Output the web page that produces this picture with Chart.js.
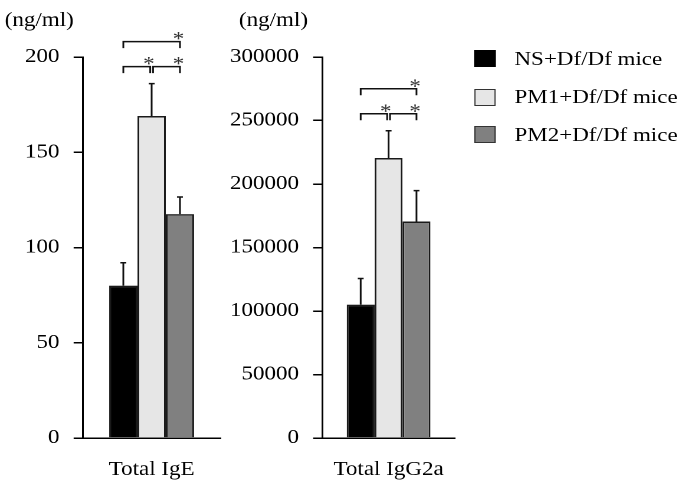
<!DOCTYPE html>
<html>
<head>
<meta charset="utf-8">
<script src="https://cdn.jsdelivr.net/npm/chart.js@4.4.0/dist/chart.umd.min.js"></script>
<style>
  html, body { margin: 0; padding: 0; background: #fff; overflow: hidden; }
  #stage {
    position: absolute; left: 0; top: 0; width: 583px; height: 492px;
    transform: scaleX(1.18); transform-origin: 0 0;
    font-family: 'Liberation Serif', 'Times New Roman', serif;
  }
  canvas { position: absolute; top: 0; }
  #leftChart { left: 0; }
  #rightChart { left: 180px; }
  .lg-row { position: absolute; left: 402px; height: 24px; display: flex; align-items: center; }
  .lg-box { width: 18px; height: 17px; box-sizing: border-box; border: 1.5px solid #333; }
  .lg-text { margin-left: 16px; font-size: 19.5px; line-height: 24px; color: #000; white-space: nowrap; }
</style>
</head>
<body>
<div id="stage">
  <canvas id="leftChart" width="205" height="492"></canvas>
  <canvas id="rightChart" width="220" height="492"></canvas>
  <div id="legend"></div>
</div>
<script>
// groups and colours
const groups = ['NS+Df/Df mice', 'PM1+Df/Df mice', 'PM2+Df/Df mice'];
const groupColors = ['#000000', '#e6e6e6', '#808080'];

// Total IgE (ng/ml)
const igeLabels = ['Total IgE'];
const igeMeans = [80, 169, 117.5];
const igeErrors = [12, 17, 9];
const igeTicks = [0, 50, 100, 150, 200];

// Total IgG2a (ng/ml)
const igg2aLabels = ['Total IgG2a'];
const igg2aMeans = [105000, 220500, 170500];
const igg2aErrors = [20600, 21400, 24300];
const igg2aTicks = [0, 50000, 100000, 150000, 200000, 250000, 300000];

const unitLabel = '(ng/ml)';

Chart.defaults.font.family = "'Liberation Serif', 'Times New Roman', serif";
Chart.defaults.color = '#000';

// error bars, significance brackets and unit label
const annotate = {
    id: 'annotate',
    afterDatasetsDraw(chart, args, opts) {
        const ctx = chart.ctx;
        const y = chart.scales.y;
        const bars = chart.data.datasets.map((d, i) => chart.getDatasetMeta(i).data[0]);
        ctx.save();
        ctx.strokeStyle = '#111';
        ctx.lineWidth = 1.5;

        let highest = Infinity;
        bars.forEach((bar, i) => {
            const top = y.getPixelForValue(opts.means[i] + opts.errors[i]);
            highest = Math.min(highest, top);
            ctx.beginPath();
            ctx.moveTo(bar.x, bar.y);
            ctx.lineTo(bar.x, top);
            ctx.moveTo(bar.x - 2.5, top);
            ctx.lineTo(bar.x + 2.5, top);
            ctx.stroke();
        });

        const lowY = highest - 17;
        const highY = lowY - 25;
        const drop = 6.5;
        const brackets = [
            [bars[0].x, bars[1].x - 1.2, lowY],
            [bars[1].x + 1.2, bars[2].x, lowY],
            [bars[0].x, bars[2].x, highY]
        ];
        ctx.font = "19.5px 'Liberation Serif', serif";
        ctx.textAlign = 'center';
        ctx.textBaseline = 'alphabetic';
        brackets.forEach(([xa, xb, by]) => {
            ctx.strokeStyle = '#111';
            ctx.beginPath();
            ctx.moveTo(xa, by + drop);
            ctx.lineTo(xa, by);
            ctx.lineTo(xb, by);
            ctx.lineTo(xb, by + drop);
            ctx.stroke();
            ctx.fillStyle = '#333';
            ctx.fillText('*', xb - 1.2, by + 3.5);
        });

        ctx.fillStyle = '#000';
        ctx.textAlign = 'left';
        ctx.textBaseline = 'middle';
        ctx.fillText(opts.unit, opts.unitX, 21);
        ctx.restore();
    }
};

function makeChart(id, labels, means, errors, ticks, yWidth, padRight, catPct, unitX) {
    const ctx = document.getElementById(id).getContext('2d');
    return new Chart(ctx, {
        type: 'bar',
        data: {
            labels: labels,
            datasets: groups.map((g, i) => ({
                label: g,
                data: [means[i]],
                backgroundColor: groupColors[i],
                borderColor: '#1a1a1a',
                borderWidth: 1.5,
                categoryPercentage: catPct,
                barPercentage: 1.0
            }))
        },
        options: {
            responsive: false,
            animation: false,
            devicePixelRatio: 2,
            layout: { padding: { top: 57, right: padRight, left: 0, bottom: 0 } },
            plugins: {
                legend: { display: false },
                tooltip: { enabled: false },
                annotate: { means: means, errors: errors, unit: unitLabel, unitX: unitX }
            },
            scales: {
                x: {
                    grid: { display: false, drawTicks: false },
                    border: { display: true, color: '#000', width: 1.5 },
                    ticks: { padding: 20, font: { size: 19.5 }, color: '#000' },
                    afterFit(scale) { scale.height = 54; }
                },
                y: {
                    min: ticks[0],
                    max: ticks[ticks.length - 1],
                    afterBuildTicks(scale) { scale.ticks = ticks.map(v => ({ value: v })); },
                    grid: { drawOnChartArea: false, drawTicks: true, tickLength: 7.6, color: '#000', lineWidth: 1.5 },
                    border: { display: true, color: '#000', width: 1.5 },
                    ticks: { padding: 12, font: { size: 19.5 }, color: '#000', callback: v => String(v) },
                    afterFit(scale) { scale.width = yWidth; }
                }
            }
        },
        plugins: [annotate]
    });
}

makeChart('leftChart', igeLabels, igeMeans, igeErrors, igeTicks, 70, 18, 0.615, 4);
makeChart('rightChart', igg2aLabels, igg2aMeans, igg2aErrors, igg2aTicks, 93, 8, 0.63, 22.5);

// legend
const legendTops = [46.5, 85, 122.5];
const legendEl = document.getElementById('legend');
groups.forEach((g, i) => {
    const row = document.createElement('div');
    row.className = 'lg-row';
    row.style.top = legendTops[i] + 'px';
    const box = document.createElement('div');
    box.className = 'lg-box';
    box.style.background = groupColors[i];
    if (i === 0) box.style.borderColor = '#000';
    const txt = document.createElement('span');
    txt.className = 'lg-text';
    txt.textContent = g;
    row.appendChild(box);
    row.appendChild(txt);
    legendEl.appendChild(row);
});
</script>
</body>
</html>
